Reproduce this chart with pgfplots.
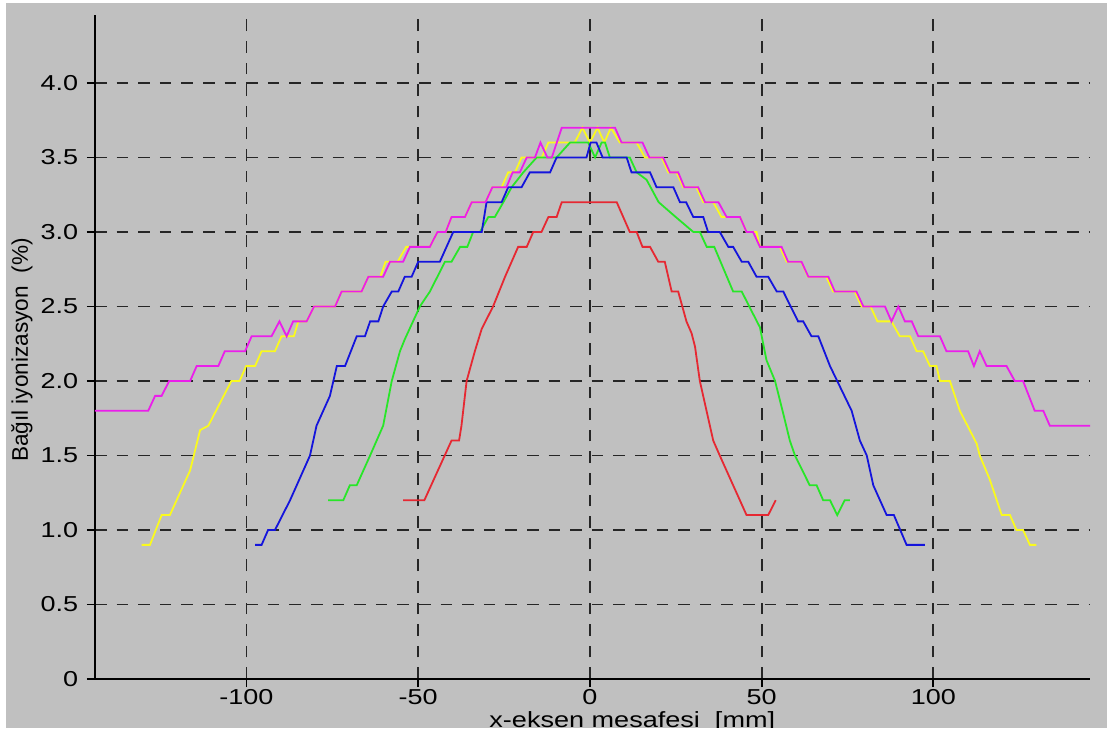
\documentclass[border=0pt]{standalone}
\usepackage{fontspec}
\setmainfont{Liberation Sans}
\usepackage{pgfplots}
\pgfplotsset{compat=1.18}
\definecolor{bg}{RGB}{192,192,192}
\definecolor{cmag}{RGB}{235,30,235}
\definecolor{cyel}{RGB}{250,250,30}
\definecolor{cblu}{RGB}{20,20,220}
\definecolor{cgrn}{RGB}{40,230,40}
\definecolor{cred}{RGB}{230,40,50}
\begin{document}
\begin{tikzpicture}
\useasboundingbox (0,0) rectangle (553.5pt,368pt);
\fill[white] (0,0) rectangle (553.5pt,368pt);
\fill[bg] (3pt,4pt) rectangle (553.5pt,366.5pt);
\begin{axis}[
  at={(47.5pt,28.5pt)}, anchor=south west,
  scale only axis, width=497.5pt, height=332pt,
  xmin=-144.1, xmax=145.6, ymin=0, ymax=4.456,
  axis x line=bottom, axis y line=left,
  axis line style={-, black, line width=0.9pt},
  xtick={-100,-50,0,50,100}, xticklabels={-100,-50,0,50,100},
  ytick={0,0.5,1,1.5,2,2.5,3,3.5,4},
  yticklabels={0,0.5,1.0,1.5,2.0,2.5,3.0,3.5,4.0},
  tick align=outside, major tick length=4pt,
  tick style={black, line width=0.9pt},
  grid=major,
  major grid style={black!85, line width=0.9pt, dash pattern=on 5.8pt off 5pt},
  tick label style={font=\fontsize{10.8}{12}\selectfont, xscale=1.25},
  xticklabel style={inner sep=1pt},
  xlabel={x-eksen mesafesi~~[mm]},
  ylabel={Bağıl iyonizasyon~~(\%)},
  xlabel style={at={(axis description cs:0.54,-0.0735)}, anchor=base, font=\fontsize{11}{13}\selectfont, xscale=1.23},
  ylabel style={at={(axis description cs:-0.0734,0.4955)}, anchor=center, font=\fontsize{11.3}{14}\selectfont},
  every axis plot/.append style={line width=0.9pt, mark=none},
]
% yellow
\addplot[cyel] coordinates {(-130.5,0.9) (-128.1,0.9) (-124.7,1.1) (-122.3,1.1) (-116.4,1.4) (-113.5,1.67) (-111.1,1.7) (-104.4,2.0) (-102.0,2.0) (-100.1,2.1) (-97.5,2.1) (-95.6,2.2) (-91.7,2.2) (-89.8,2.3) (-86.2,2.3) (-84.9,2.4) (-82.5,2.4) (-80.3,2.5) (-74.2,2.5) (-72.3,2.6) (-66.5,2.6) (-64.5,2.7) (-61,2.7) (-59.5,2.8) (-56,2.8) (-53.5,2.9) (-46.6,2.9) (-44.4,3.0) (-42,3.0) (-40.3,3.1) (-36.4,3.1) (-34.4,3.2) (-30.4,3.2) (-28.4,3.3) (-25.7,3.3) (-23.8,3.4) (-21.8,3.4) (-19.9,3.5) (-14,3.5) (-12.1,3.6) (-4.4,3.6) (-2.2,3.7) (0,3.6) (2.2,3.7) (4.2,3.6) (6.1,3.7) (8.7,3.6) (13.6,3.6) (16.0,3.5) (20.9,3.5) (22.8,3.4) (25.2,3.4) (27.2,3.3) (31.0,3.3) (33.0,3.2) (35.9,3.2) (38.3,3.1) (43.7,3.1) (45.6,3.0) (48.5,3.0) (49.5,2.9) (55.3,2.9) (57.3,2.8) (61.5,2.8) (63.5,2.7) (68.8,2.7) (70.8,2.6) (77.1,2.6) (79.1,2.5) (81.7,2.5) (83.7,2.4) (87.8,2.4) (90.2,2.3) (93.2,2.3) (95.1,2.2) (97.0,2.2) (99.0,2.1) (100.9,2.1) (101.9,2.0) (104.8,2.0) (107.7,1.8) (112.6,1.58) (113.5,1.5) (116.4,1.34) (119.9,1.1) (122.3,1.1) (124.2,1.0) (126.1,1.0) (128.1,0.9) (130.0,0.9)};
% green
\addplot[cgrn] coordinates {(-76.2,1.2) (-71.8,1.2) (-69.9,1.3) (-67.9,1.3) (-64.0,1.5) (-60.2,1.7) (-57.7,2.0) (-55.3,2.2) (-53.9,2.28) (-49.5,2.5) (-46.6,2.6) (-42.2,2.8) (-40.3,2.8) (-37.8,2.9) (-35.7,2.9) (-34.0,3.0) (-32,3.0) (-29.6,3.1) (-27.7,3.1) (-25.2,3.2) (-22.8,3.3) (-19.4,3.4) (-15.5,3.5) (-9.7,3.5) (-5.8,3.6) (-0.5,3.6) (1.5,3.5) (3.4,3.6) (4.4,3.6) (5.8,3.5) (11.6,3.5) (13.6,3.4) (16.5,3.35) (20,3.2) (25,3.1) (30.1,3.0) (32.0,3.0) (34.0,2.9) (36.2,2.9) (41.7,2.6) (44.2,2.6) (47.5,2.45) (49.5,2.36) (51.4,2.14) (53.9,2.0) (56.3,1.78) (58.2,1.6) (59.7,1.5) (64.0,1.3) (66.0,1.3) (67.9,1.2) (69.9,1.2) (72.0,1.1) (74.2,1.2) (75.7,1.2)};
% blue
\addplot[cblu] coordinates {(-97.5,0.9) (-95.6,0.9) (-93.7,1.0) (-91.7,1.0) (-87.3,1.2) (-81.5,1.5) (-79.6,1.7) (-75.7,1.9) (-73.7,2.1) (-71.3,2.1) (-67.9,2.3) (-65.5,2.3) (-64.0,2.4) (-61.6,2.4) (-60.2,2.5) (-57.7,2.6) (-55.8,2.6) (-53.9,2.7) (-51.9,2.7) (-50.0,2.8) (-43.7,2.8) (-39.8,3.0) (-31.5,3.0) (-30.1,3.2) (-25.7,3.2) (-23.8,3.3) (-19.9,3.3) (-17.5,3.4) (-11.6,3.4) (-9.7,3.5) (-1.0,3.5) (0.2,3.6) (1.9,3.6) (3.7,3.5) (10.7,3.5) (12.1,3.4) (17.5,3.4) (19.4,3.3) (24.3,3.3) (26.2,3.2) (28,3.2) (30.1,3.1) (33.0,3.1) (34.4,3.0) (37.8,3.0) (40.3,2.9) (41.7,2.9) (44.2,2.8) (46.1,2.8) (48.5,2.7) (51.9,2.7) (54.4,2.6) (56.3,2.6) (60.6,2.4) (62.1,2.4) (64.5,2.3) (66.5,2.3) (69.9,2.1) (76.2,1.8) (78.6,1.6) (80.6,1.5) (82.5,1.3) (86.4,1.1) (88.5,1.1) (92.2,0.9) (97.5,0.9)};
% red
\addplot[cred] coordinates {(-54.4,1.2) (-48.2,1.2) (-40.3,1.6) (-38.1,1.6) (-37.4,1.7) (-35.9,2.0) (-33.5,2.2) (-31.5,2.35) (-28.2,2.5) (-24.7,2.7) (-20.9,2.9) (-18.4,2.9) (-16.5,3.0) (-14.1,3.0) (-12.1,3.1) (-9.7,3.1) (-8.2,3.2) (7.8,3.2) (11.6,3.0) (13.6,3.0) (15.3,2.9) (17.5,2.9) (19.9,2.8) (21.8,2.8) (23.8,2.6) (25.7,2.6) (28.1,2.4) (29.6,2.32) (30.6,2.23) (32.0,2.0) (35.9,1.6) (37.8,1.5) (45.6,1.1) (51.9,1.1) (54.1,1.2)};
% magenta
\addplot[cmag] coordinates {(-144.1,1.8) (-128.6,1.8) (-126.6,1.9) (-124.7,1.9) (-122.5,2.0) (-116.4,2.0) (-114.5,2.1) (-108.2,2.1) (-106.3,2.2) (-100.4,2.2) (-98.5,2.3) (-92.7,2.3) (-90.4,2.4) (-88.3,2.3) (-86.4,2.4) (-82.5,2.4) (-80.3,2.5) (-74.2,2.5) (-72.3,2.6) (-66.5,2.6) (-64.5,2.7) (-60.2,2.7) (-58.2,2.8) (-54.4,2.8) (-52.4,2.9) (-46.6,2.9) (-44.4,3.0) (-42,3.0) (-40.3,3.1) (-36.4,3.1) (-34.4,3.2) (-30.4,3.2) (-28.4,3.3) (-24.3,3.3) (-22.5,3.4) (-20.4,3.4) (-18.4,3.5) (-16.0,3.5) (-14.4,3.6) (-12.4,3.5) (-11.1,3.5) (-8.2,3.7) (7.3,3.7) (9.2,3.6) (15.3,3.6) (17.3,3.5) (21.3,3.5) (23.3,3.4) (25.7,3.4) (27.5,3.3) (31.5,3.3) (33.5,3.2) (37.4,3.2) (39.8,3.1) (43.7,3.1) (45.6,3.0) (47.5,3.0) (49.5,2.9) (55.8,2.9) (57.7,2.8) (61.6,2.8) (63.6,2.7) (69.4,2.7) (71.3,2.6) (77.6,2.6) (79.6,2.5) (85.9,2.5) (87.8,2.4) (89.8,2.5) (91.7,2.4) (93.7,2.4) (95.6,2.3) (101.9,2.3) (103.8,2.2) (110.1,2.2) (111.8,2.1) (113.5,2.2) (115.5,2.1) (121.3,2.1) (123.7,2.0) (126.1,2.0) (129.5,1.8) (132.0,1.8) (133.9,1.7) (145.6,1.7)};
\end{axis}
\fill[white] (0,0) rectangle (553.5pt,4pt);
\end{tikzpicture}
\end{document}
